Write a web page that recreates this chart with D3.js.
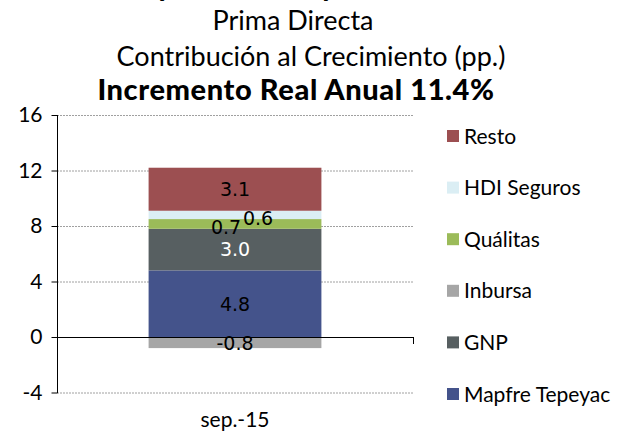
<!DOCTYPE html>
<html>
<head>
<meta charset="utf-8">
<script src="https://cdn.jsdelivr.net/npm/d3@7"></script>
<style>
  body { margin: 0; background: #fff; }
  svg { display: block; }
  text { font-family: Lato, "Noto Sans", sans-serif; fill: #000; }
</style>
</head>
<body>
<script>
// data
var categories = ['sep.-15'];
var series = ['Mapfre Tepeyac', 'GNP', 'Inbursa', 'Quálitas', 'HDI Seguros', 'Resto'];
var values = [4.8, 3.0, -0.8, 0.7, 0.6, 3.1];
var colors = ['#44538b', '#575f61', '#a6a6a6', '#9bbb59', '#dbeef4', '#9c4f51'];
var labelColors = ['#000', '#fff', '#000', '#000', '#000', '#000'];
var labelDx = [0, 0, 0, -9, 23, 0];
var labelDy = [0, 0, 1, 3, 3, 0];
var yTicks = [-4, 0, 4, 8, 12, 16];
var titles = ['Prima Directa', 'Contribución al Crecimiento (pp.)'];
var titleX = [293, 311];
var titleBold = 'Incremento Real Anual 11.4%';

var width = 630, height = 432;
var svg = d3.select('body').append('svg').attr('width', width).attr('height', height);

var x = d3.scaleBand().domain(categories).range([57, 413]).paddingInner(0.5).paddingOuter(0.265);
var y = d3.scaleLinear().domain([-4, 16]).range([392.5, 115]);
var fmt = function(v) { return d3.format('.1f')(v).replace('\u2212', '-'); };

// titles (first line is cut by the top edge)
svg.append('text').attr('x', 296).attr('y', -4)
  .attr('text-anchor', 'middle').style('font-size', '28px').style('font-weight', '900')
  .text('Daños y Accidentes y Enfermedades');
titles.forEach(function(t, i) {
  svg.append('text').attr('x', titleX[i]).attr('y', 30 + i * 36)
    .attr('text-anchor', 'middle').style('font-size', '27px').text(t);
});
svg.append('text').attr('x', 296).attr('y', 100)
  .attr('text-anchor', 'middle').style('font-size', '29px').style('font-weight', '900')
  .style('letter-spacing', '0.6px')
  .text(titleBold);

// gridlines
svg.append('g').selectAll('line').data(yTicks.filter(function(d) { return d !== 0; }))
  .enter().append('line')
  .attr('x1', 57).attr('x2', 413)
  .attr('y1', function(d) { return y(d) + 0.5; }).attr('y2', function(d) { return y(d) + 0.5; })
  .attr('stroke', '#a0a0a0').attr('stroke-dasharray', '2,1');

// stacked bars
var pos = 0, neg = 0;
var stacks = values.map(function(v, i) {
  var s;
  if (v >= 0) { s = { y0: pos, y1: pos + v }; pos += v; }
  else { s = { y0: neg + v, y1: neg }; neg += v; }
  s.v = v; s.i = i;
  return s;
});

var bars = svg.append('g');
bars.selectAll('rect').data(stacks).enter().append('rect')
  .attr('x', x(categories[0]))
  .attr('width', x.bandwidth())
  .attr('y', function(d) { return y(d.y1); })
  .attr('height', function(d) { return y(d.y0) - y(d.y1); })
  .attr('fill', function(d) { return colors[d.i]; });

bars.selectAll('text').data(stacks).enter().append('text')
  .attr('x', function(d) { return x(categories[0]) + x.bandwidth() / 2 + labelDx[d.i]; })
  .attr('y', function(d) { return (y(d.y0) + y(d.y1)) / 2 + labelDy[d.i]; })
  .attr('dy', '0.36em')
  .attr('text-anchor', 'middle')
  .style('font-family', '"DejaVu Sans", sans-serif')
  .style('font-size', '19px')
  .style('fill', function(d) { return labelColors[d.i]; })
  .text(function(d) { return fmt(d.v); });

// y axis
var yAxis = svg.append('g').attr('transform', 'translate(57.5,0)')
  .call(d3.axisLeft(y).tickValues(yTicks).tickSize(6).tickPadding(9)
    .tickFormat(function(d) { return String(d); }));
yAxis.select('.domain').attr('d', 'M0,' + y(16) + 'V' + (y(-4) + 0.5)).attr('stroke', '#000');
yAxis.selectAll('.tick line').attr('stroke', '#000');
yAxis.selectAll('.tick text').style('font-size', '21px').style('font-family', 'Lato, sans-serif').attr('fill', '#000');

// zero line
svg.append('line').attr('x1', 57).attr('x2', 413.5)
  .attr('y1', y(0) + 0.5).attr('y2', y(0) + 0.5).attr('stroke', '#000');
svg.append('line').attr('x1', 413.5).attr('x2', 413.5)
  .attr('y1', y(0)).attr('y2', y(0) + 7).attr('stroke', '#000');

// category label
svg.append('text').attr('x', x(categories[0]) + x.bandwidth() / 2).attr('y', 427)
  .attr('text-anchor', 'middle').style('font-size', '21px').text(categories[0]);

// legend (top to bottom reversed)
var legend = svg.append('g').selectAll('g').data(series.slice().reverse())
  .enter().append('g')
  .attr('transform', function(d, i) { return 'translate(447,' + (136 + i * 51.6) + ')'; });
legend.append('rect').attr('x', 0).attr('y', -6).attr('width', 12).attr('height', 12)
  .attr('fill', function(d) { return colors[series.indexOf(d)]; });
legend.append('text').attr('x', 17).attr('dy', '0.36em').style('font-size', '21px')
  .text(function(d) { return d; });
</script>
</body>
</html>
